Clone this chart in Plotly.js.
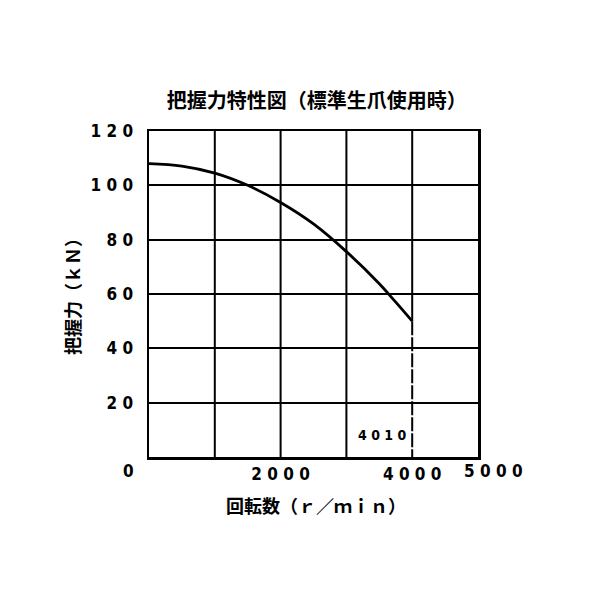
<!DOCTYPE html>
<html>
<head>
<meta charset="utf-8">
<script src="https://cdn.plot.ly/plotly-3.0.1.min.js"></script>
<style>
  html, body { margin: 0; padding: 0; background: #fff; }
  #chartDiv { width: 600px; height: 600px; }
</style>
</head>
<body>
<div id="chartDiv"></div>
<script>
// gripping force vs spindle speed
var rpm = [0, 500, 1000, 1500, 2000, 2500, 3000, 3500, 3750, 4000];
var force = [108, 107.1, 104.5, 100, 93.7, 85.8, 75.6, 63.8, 57, 50];

// speed limit marker
var limitX = [4000, 4000];
var limitY = [50, 0];
var limitLabel = "4 0 1 0";

var xRange = [0, 5000];
var yRange = [0, 120];
var xGrid = [1000, 2000, 3000, 4000];
var xGridText = ["", "2 0 0 0", "", "4 0 0 0"];
var yTicks = [0, 20, 40, 60, 80, 100, 120];
var yTickText = ["", "2 0", "4 0", "6 0", "8 0", "1 0 0", "1 2 0"];

var jp = "Noto Sans CJK JP, sans-serif";
var num = "DejaVu Sans Condensed, DejaVu Sans, sans-serif";

var curve = {
	x: rpm,
	y: force,
	type: "scatter",
	mode: "lines",
	line: {color: "#000", width: 2.8, shape: "spline", smoothing: 1},
	hoverinfo: "skip"
};
var limit = {
	x: limitX,
	y: limitY,
	type: "scatter",
	mode: "lines",
	line: {color: "#000", width: 2, dash: "14px,2px"},
	hoverinfo: "skip"
};

// vertical grid drawn by hand: the one at the limit stops at the curve end
var gridShapes = xGrid.map(function(gx) {
	return {
		type: "line", xref: "x", yref: "y",
		x0: gx, x1: gx,
		y0: gx === limitX[0] ? limitY[0] : yRange[0],
		y1: yRange[1],
		line: {color: "#000", width: 2},
		layer: "below"
	};
});

var layout = {
	width: 600,
	height: 600,
	margin: {l: 149, r: 122, t: 131, b: 143},
	paper_bgcolor: "#fff",
	plot_bgcolor: "#fff",
	showlegend: false,
	font: {family: jp, color: "#000", size: 15, weight: "bold"},
	title: {
		text: "把握力特性図（標準生爪使用時）",
		font: {family: jp, size: 20, weight: "bold", color: "#000"},
		xref: "paper", x: 0.51, xanchor: "center",
		yref: "container", y: 1 - 101 / 600, yanchor: "middle"
	},
	xaxis: {
		range: xRange,
		tickvals: xGrid,
		ticktext: xGridText,
		ticks: "",
		showgrid: false,
		showline: true,
		mirror: true,
		linecolor: "#000",
		linewidth: 2.5,
		zeroline: false,
		fixedrange: true,
		tickfont: {family: num, size: 17, weight: "bold"}
	},
	yaxis: {
		range: yRange,
		tickvals: yTicks,
		ticktext: yTickText,
		ticks: "",
		ticklabelstandoff: 10,
		showgrid: true,
		gridcolor: "#000",
		gridwidth: 2,
		showline: true,
		mirror: true,
		linecolor: "#000",
		linewidth: 2.5,
		zeroline: false,
		fixedrange: true,
		tickfont: {family: num, size: 17, weight: "bold"}
	},
	shapes: gridShapes,
	annotations: [
		{x: xRange[0], y: yRange[0], xref: "x", yref: "y", text: "0", showarrow: false,
			xanchor: "right", yanchor: "top", xshift: -13, yshift: -2,
			font: {family: num, size: 17, weight: "bold"}},
		{x: xRange[1], y: yRange[0], xref: "x", yref: "y", text: "5 0 0 0", showarrow: false,
			xanchor: "center", yanchor: "top", xshift: 15, yshift: -2,
			font: {family: num, size: 17, weight: "bold"}},
		{x: limitX[0], y: 8, xref: "x", yref: "y", text: limitLabel, showarrow: false,
			xanchor: "right", yanchor: "middle", xshift: -4,
			font: {family: num, size: 14, weight: "bold"}},
		{x: 316 / 600, y: 1 - 505 / 600, xref: "paper", yref: "paper", text: "回転数（ｒ／ｍｉｎ）",
			showarrow: false, xanchor: "center", yanchor: "middle",
			font: {family: jp, size: 18, weight: "bold"}},
		{x: 72 / 600, y: 1 - 292 / 600, xref: "paper", yref: "paper", text: "把握力（ｋＮ）",
			showarrow: false, xanchor: "center", yanchor: "middle", textangle: -90,
			font: {family: jp, size: 18, weight: "bold"}}
	]
};

// annotations above use paper coords of the whole page, so map them into plot-area paper space
var plotW = 600 - layout.margin.l - layout.margin.r;
var plotH = 600 - layout.margin.t - layout.margin.b;
layout.annotations.forEach(function(a) {
	if (a.xref === "paper") {
		a.x = (a.x * 600 - layout.margin.l) / plotW;
		a.y = (a.y * 600 - layout.margin.b) / plotH;
	}
});

Plotly.newPlot("chartDiv", [curve, limit], layout, {staticPlot: true});
</script>
</body>
</html>
